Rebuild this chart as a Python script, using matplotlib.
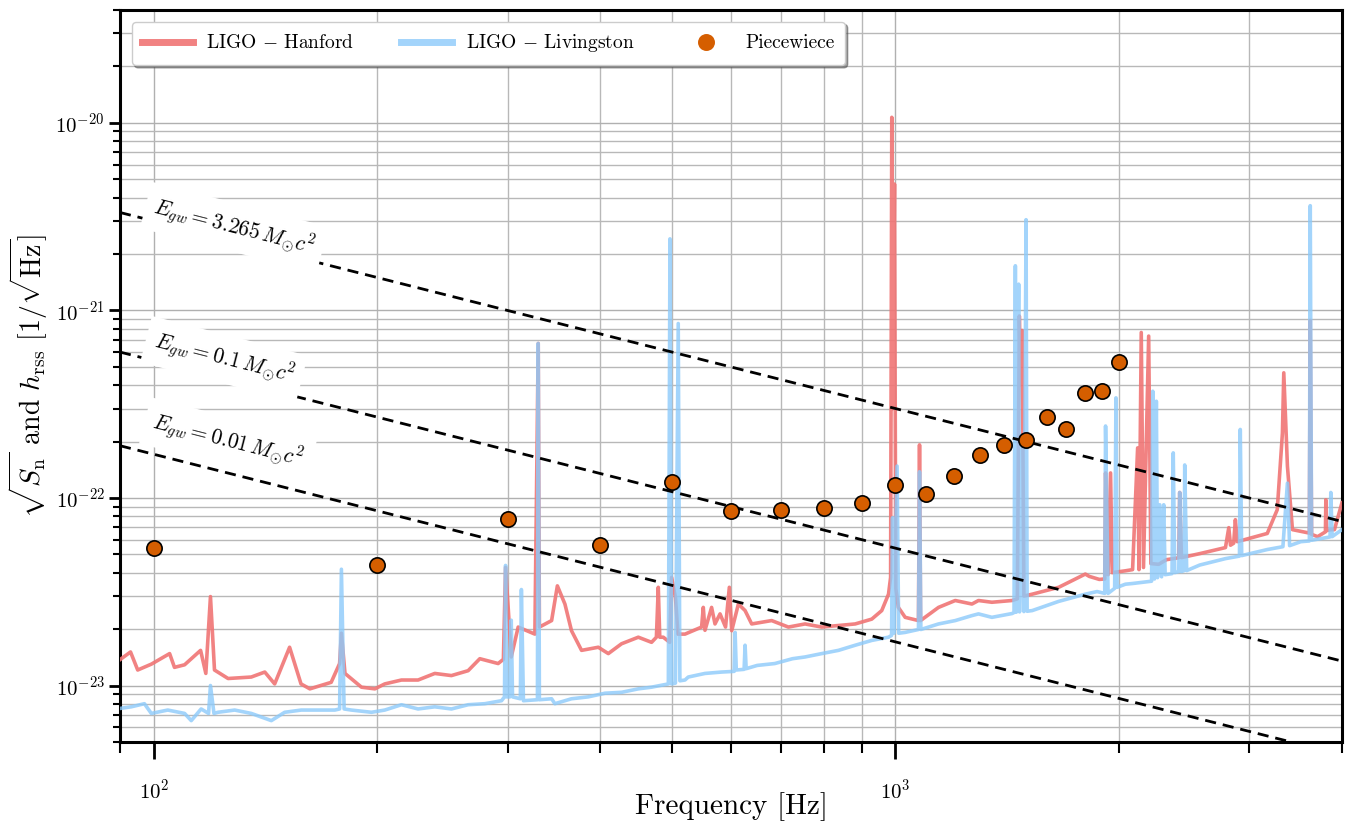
import matplotlib
matplotlib.use("Agg")
import matplotlib.pyplot as plt
from matplotlib.ticker import NullFormatter
import numpy as np

plt.rcParams['font.family'] = 'serif'
plt.rcParams['font.serif'] = ['cmr10']
plt.rcParams['mathtext.fontset'] = 'cm'
plt.rcParams['axes.formatter.use_mathtext'] = True
plt.rcParams['axes.unicode_minus'] = False

# amplitude spectral densities, in units of 1e-23 / sqrt(Hz)
hanford_freq = [89, 93.0, 95.1, 99.2, 105.0, 106.6, 110.0, 115.6, 117.5, 119.2, 120.7, 125.9,
                135.3, 141.1, 145.5, 152.4, 157.9, 162.3, 173.4, 178, 179.0, 181, 190.5,
                198.6, 204.8, 215.7, 227.1, 239.2, 251.9, 265.3, 275.1, 291.2, 296, 298.0,
                300.5, 303.3, 309.9, 326.4, 329.8, 331, 343.8, 350, 358.3, 365.7, 377.3,
                397.4, 410.0, 427.2, 450.0, 468.9, 476, 478.8, 481, 486.3, 496, 499.0,
                505, 509, 520.2, 547.7, 550.6, 553.5, 565.0, 571.0, 580.0, 590, 597.0,
                601.4, 614.0, 626.9, 639.9, 680.8, 717.1, 755.2, 795.3, 837.8, 882.4,
                929.0, 958.3, 978.6, 985, 988.6, 991, 997, 1001, 1009, 1030.6, 1074,
                1077.5, 1081, 1143, 1204, 1268, 1294, 1349, 1436, 1460, 1469, 1475, 1482,
                1490, 1529, 1660, 1803, 1825, 1883, 1915, 1920, 1935, 1950, 1960, 2042,
                2088, 2121, 2130, 2145, 2160, 2195, 2210, 2264, 2320, 2410, 2417, 2430,
                2572, 2786, 2815, 2830, 2858, 2873, 2890, 3172, 3272, 3325, 3339, 3377,
                3430, 3615, 3625, 3640, 3709, 3800, 3805, 3815, 3864, 3908, 4000]
hanford_asd = [1.33, 1.51, 1.21, 1.30, 1.48, 1.25, 1.29, 1.54, 1.16, 2.98, 1.21, 1.09,
               1.11, 1.18, 1.02, 1.60, 1.02, 0.96, 1.04, 1.31, 1.90, 1.16, 0.98,
               0.96, 1.02, 1.07, 1.07, 1.16, 1.13, 1.20, 1.39, 1.31, 1.38, 4.26,
               2.56, 1.42, 2.05, 1.88, 66.7, 2.05, 2.22, 3.40, 2.72, 1.96, 1.54,
               1.60, 1.48, 1.67, 1.81, 1.70, 1.81, 3.34, 1.81, 1.81, 1.70, 3.77,
               2.95, 1.88, 1.88, 2.05, 2.61, 1.97, 2.61, 2.13, 2.41, 2.05, 3.34,
               1.96, 2.72, 2.51, 2.13, 2.22, 2.05, 2.13, 2.05, 2.09, 2.13,
               2.26, 2.51, 3.07, 3.77, 1071, 30, 472, 3.3, 2.61, 2.31, 2.22,
               19.2, 2.22, 2.61, 2.84, 2.72, 2.84, 2.78, 2.84, 2.90, 93.4, 40, 78.2,
               3.00, 3.07, 3.34, 3.93, 3.82, 3.68, 3.7, 13.6, 3.9, 13.6, 4.0, 4.09,
               4.15, 18.5, 4.15, 76.3, 4.26, 73.0, 4.47, 4.43, 4.69, 4.8, 10.7, 4.81,
               5.05, 5.44, 6.95, 5.6, 5.74, 7.66, 5.85, 6.47, 8.66, 22.2, 46.5, 14.8,
               6.78, 6.5, 88.4, 6.4, 6.22, 6.6, 9.78, 6.7, 6.78, 6.78, 9.43]

livingston_freq = [89, 93.2, 97.1, 99.2, 104.4, 110.0, 112.3, 115.8, 118.5, 119.2, 120.5, 122.0,
                   128.5, 135.3, 144.0, 150.1, 158.0, 166.5, 175.4, 178, 179.0, 180.5, 184.6,
                   196.5, 204.8, 215.7, 227.1, 239.2, 251.9, 265.3, 279.4, 294.3, 297, 298,
                   299, 302, 303.3, 304.5, 312, 313, 315, 329, 329.8, 331, 343.8, 347.3,
                   365.7, 385.2, 405.8, 427.2, 450.0, 468.9, 494, 496.5, 499, 505, 509.4,
                   512, 520.2, 525.5, 553.5, 582.9, 606, 607.8, 610, 625, 626.9, 629, 651,
                   687.6, 726.3, 755.2, 795.3, 837.8, 882.4, 929.0, 978.6, 988, 991, 995,
                   1005, 1010, 1030.6, 1074, 1077.5, 1082, 1143, 1204, 1268, 1294, 1349,
                   1436, 1445, 1451, 1455, 1466, 1470, 1478, 1490, 1500, 1505, 1529, 1660,
                   1803, 1870, 1915, 1920, 1935, 1975, 1983, 1990, 2042, 2088, 2215, 2223,
                   2235, 2248, 2256, 2272, 2285, 2300, 2310, 2360, 2369, 2380, 2410, 2417,
                   2430, 2450, 2455, 2470, 2572, 2786, 2910, 2917, 2930, 3172, 3330, 3377,
                   3400, 3521, 3615, 3625, 3640, 3855, 3864, 3880, 4000]
livingston_asd = [0.75, 0.77, 0.80, 0.71, 0.74, 0.71, 0.65, 0.75, 0.71, 1.00, 0.71, 0.72,
                  0.74, 0.71, 0.65, 0.72, 0.74, 0.74, 0.74, 0.75, 4.17, 0.75, 0.74,
                  0.72, 0.74, 0.79, 0.75, 0.77, 0.75, 0.79, 0.80, 0.83, 0.87, 4.37,
                  0.87, 0.87, 2.23, 0.87, 0.85, 3.25, 0.83, 0.84, 66.7, 0.84, 0.85, 0.80,
                  0.85, 0.87, 0.91, 0.92, 0.96, 0.98, 1.02, 240.9, 1.02, 1.03, 85.2,
                  1.06, 1.07, 1.11, 1.16, 1.18, 1.19, 1.92, 1.21, 1.22, 1.64, 1.23, 1.28,
                  1.31, 1.39, 1.42, 1.48, 1.54, 1.64, 1.74, 1.81, 1.85, 7.85, 1.9,
                  14.8, 1.9, 1.92, 1.99, 13.8, 1.99, 2.13, 2.22, 2.36, 2.41, 2.31,
                  2.42, 2.45, 173.1, 2.46, 138.1, 2.47, 20, 2.48, 304.7, 2.49, 2.51, 2.81,
                  3.07, 3.17, 3.1, 24.2, 3.10, 3.3, 34.2, 3.34, 3.47, 3.5, 3.6, 37.1,
                  3.7, 32.8, 3.76, 9.2, 3.8, 9.2, 3.9, 3.95, 17.4, 4.0, 4.05, 10.7,
                  4.05, 4.1, 15.0, 4.1, 4.39, 4.75, 4.9, 23.2, 4.93, 5.31, 5.5, 12.0,
                  5.57, 5.85, 5.9, 362, 5.95, 6.2, 10.7, 6.22, 6.78]

# Piecewiece h_rss points
pw_freq = [100, 200, 300, 400, 500, 600, 700, 800, 900, 1000,
           1100, 1200, 1300, 1400, 1500, 1600, 1700, 1800, 1900, 2000]
pw_hrss = [5.38, 4.40, 7.69, 5.62, 12.22, 8.52, 8.67, 8.81, 9.40, 11.67,
           10.54, 13.06, 16.98, 19.27, 20.4, 26.9, 23.3, 36.4, 37.0, 53.0]

# constant-energy lines (h_rss ~ 1/f), ends of the frequency range
energy_freq = [90, 4000]
energy_labels = [r'$E_{gw} = 3.265\,M_{\odot}c^2$',
                 r'$E_{gw} = 0.1\,M_{\odot}c^2$',
                 r'$E_{gw} = 0.01\,M_{\odot}c^2$']
energy_hrss = [[3.33e-21, 7.5e-23],
               [6.0e-22, 1.35e-23],
               [1.9e-22, 4.27e-24]]
label_pos = [(128.3, 2.77e-21), (124.3, 5.51e-22), (125.9, 2.0e-22)]

scale = 1e-23

fig = plt.figure(figsize=(13.54, 8.27), dpi=100)
ax = fig.add_axes([0.0886, 0.1028, 0.9025, 0.8851])

ax.plot(hanford_freq, np.array(hanford_asd) * scale, color='#f07575', lw=2.6, alpha=0.9,
        label=r'LIGO $-$ Hanford', zorder=3)
ax.plot(livingston_freq, np.array(livingston_asd) * scale, color='#8ccafa', lw=2.6, alpha=0.8,
        label=r'LIGO $-$ Livingston', zorder=3)

for i in range(len(energy_hrss)):
    ax.plot(energy_freq, energy_hrss[i], color='black', ls=(0, (4, 2.5)), lw=2, zorder=4)
    ax.text(label_pos[i][0], label_pos[i][1], energy_labels[i], fontsize=15.5,
            rotation=-14.3, rotation_mode='anchor', ha='center', va='center', zorder=5,
            bbox=dict(boxstyle='square,pad=0.4', facecolor='white', edgecolor='none'))

ax.plot(pw_freq, np.array(pw_hrss) * scale, 'o', color='#d55e00', markeredgecolor='black',
        markeredgewidth=1.2, markersize=11, label='Piecewiece', zorder=6)

ax.set_xscale('log')
ax.set_yscale('log')
ax.set_xlim(90, 4000)
ax.set_ylim(5e-24, 4e-20)

ax.grid(True, which='major', color='#b0b0b0', lw=1)
ax.grid(True, which='minor', color='#b8b8b8', lw=1)
ax.set_axisbelow(True)

ax.xaxis.set_minor_formatter(NullFormatter())
ax.yaxis.set_minor_formatter(NullFormatter())
ax.tick_params(which='major', width=2, labelsize=15)
ax.tick_params(which='minor', width=1.5)
ax.tick_params(axis='y', which='major', length=8, pad=3)
ax.tick_params(axis='y', which='minor', length=5)
ax.tick_params(axis='x', which='major', length=12, pad=14)
ax.tick_params(axis='x', which='minor', length=8)
for s in ax.spines.values():
    s.set_linewidth(2.2)

ax.set_xlabel('Frequency [Hz]', fontsize=21)
ax.xaxis.set_label_coords(0.5, -0.068)
ax.set_ylabel(r'$\sqrt{S_{\rm n}}$ and $h_{\rm rss}$ $[1/\sqrt{\rm Hz}]$', fontsize=20, labelpad=4)

leg = ax.legend(loc='upper left', ncol=3, fontsize=14, frameon=True, fancybox=True,
                shadow=True, handlelength=2.6, handletextpad=0.7, columnspacing=2.4,
                borderaxespad=0.6, borderpad=0.55)
for h in leg.legend_handles[:2]:
    h.set_linewidth(5)
leg.legend_handles[2].set_markeredgecolor('#d55e00')
leg.get_frame().set_alpha(1)

fig.savefig('out.png', dpi=100)
